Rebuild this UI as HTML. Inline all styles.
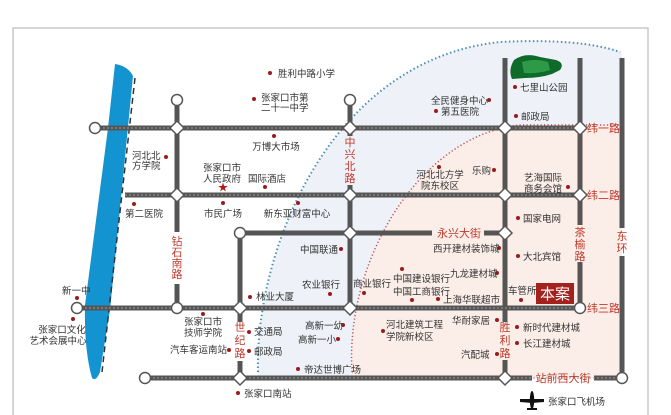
<!DOCTYPE html>
<html><head><meta charset="utf-8"><style>
html,body{margin:0;padding:0;background:#fff;}
svg{display:block;font-family:"Liberation Sans","Noto Sans CJK SC",sans-serif;}
.t{font-size:9.5px;fill:#333;}
.r{font-size:11px;fill:#c0392b;}
.d{fill:#9b1b1b;}
</style></head><body>
<svg width="671" height="415" viewBox="0 0 671 415" xmlns="http://www.w3.org/2000/svg">
<rect x="13" y="28" width="635" height="400" fill="#fff" stroke="#c8c8c8" stroke-width="1.5"/>
<path d="M258,378 C255,250 330,60 500,42 Q580,38 622,52 L622,378 Z" fill="#eef1f7"/>
<path d="M352,378 C345,260 420,135 520,125 L622,125 L622,378 Z" fill="#fbede7"/>
<path d="M258,372 C255,250 330,60 500,42 Q580,38 620,52" fill="none" stroke="#4a90b8" stroke-width="2" stroke-dasharray="1.5,2.5"/>
<path d="M352,372 C345,260 420,135 520,125 L620,125" fill="none" stroke="#c0504d" stroke-width="1.5" stroke-dasharray="1.2,2.3"/>
<path d="M115,64 Q128,66 133,76 L110,310 L100,372 Q96,382 92,378 Q84,350 85,305 L108,128 Z" fill="#1393d0"/>
<line x1="135" y1="78" x2="102" y2="372" stroke="#333" stroke-width="1.5" stroke-dasharray="6,4"/>
<path d="M514,60 Q525,52 540,57 L556,60 Q565,63 560,70 L552,74 Q540,78 525,78 L512,79 Q508,70 514,60 Z" fill="#0f6b2a"/>
<path d="M522,62 Q535,58 548,62 L550,70 Q538,74 524,73 Z" fill="#2e9a48"/>
<g stroke="#555" stroke-width="5" fill="none">
<line x1="95" y1="128" x2="580" y2="128"/>
<line x1="125" y1="195" x2="580" y2="195"/>
<line x1="240" y1="233" x2="432" y2="233"/>
<line x1="484" y1="233" x2="505" y2="233"/>
<line x1="77" y1="308" x2="580" y2="308"/>
<line x1="145" y1="378" x2="532" y2="378"/>
<line x1="594" y1="378" x2="622" y2="378"/>
<line x1="177" y1="100" x2="177" y2="232"/>
<line x1="177" y1="284" x2="177" y2="308"/>
<line x1="240" y1="233" x2="240" y2="322"/>
<line x1="240" y1="361" x2="240" y2="378"/>
<line x1="350" y1="100" x2="350" y2="136"/>
<line x1="350" y1="185" x2="350" y2="308"/>
<line x1="505" y1="58" x2="505" y2="322"/>
<line x1="505" y1="360" x2="505" y2="378"/>
<line x1="580" y1="58" x2="580" y2="225"/>
<line x1="580" y1="262" x2="580" y2="308"/>
<line x1="622" y1="58" x2="622" y2="228"/>
<line x1="622" y1="256" x2="622" y2="378"/>
</g>
<g stroke="#9a9a9a" stroke-width="1" stroke-dasharray="2,2" fill="none">
<line x1="95" y1="128" x2="580" y2="128"/><line x1="125" y1="195" x2="580" y2="195"/>
<line x1="77" y1="308" x2="580" y2="308"/><line x1="145" y1="378" x2="622" y2="378"/>
</g>
<g fill="#fff" stroke="#555" stroke-width="1.5">
<circle cx="95" cy="128" r="5.5"/><circle cx="177" cy="100" r="5.5"/><circle cx="350" cy="100" r="5.5"/>
<circle cx="240" cy="233" r="5.5"/><circle cx="77" cy="308" r="5.5"/><circle cx="177" cy="308" r="5.5"/>
<circle cx="145" cy="378" r="5.5"/><circle cx="622" cy="378" r="5.5"/><circle cx="580" cy="308" r="5.5"/>
<path d="M177,121 l7,7 l-7,7 l-7,-7z"/><path d="M350,121 l7,7 l-7,7 l-7,-7z"/><path d="M505,121 l7,7 l-7,7 l-7,-7z"/><path d="M580,121 l7,7 l-7,7 l-7,-7z"/>
<path d="M177,188 l7,7 l-7,7 l-7,-7z"/><path d="M350,188 l7,7 l-7,7 l-7,-7z"/><path d="M505,188 l7,7 l-7,7 l-7,-7z"/><path d="M580,188 l7,7 l-7,7 l-7,-7z"/>
<path d="M350,226 l7,7 l-7,7 l-7,-7z"/><path d="M505,226 l7,7 l-7,7 l-7,-7z"/>
<path d="M240,301 l7,7 l-7,7 l-7,-7z"/><path d="M350,301 l7,7 l-7,7 l-7,-7z"/>
<path d="M240,371 l7,7 l-7,7 l-7,-7z"/><path d="M505,371 l7,7 l-7,7 l-7,-7z"/>
</g>
<g class="r" text-anchor="middle">
<text x="350" y="146">中</text><text x="350" y="158">兴</text><text x="350" y="170">北</text><text x="350" y="182">路</text>
<text x="177" y="245">钻</text><text x="177" y="256">石</text><text x="177" y="267">南</text><text x="177" y="278">路</text>
<text x="240" y="331">世</text><text x="240" y="344">纪</text><text x="240" y="357">路</text>
<text x="505" y="331">胜</text><text x="505" y="344">利</text><text x="505" y="357">路</text>
<text x="580" y="236">茶</text><text x="580" y="248">榆</text><text x="580" y="260">路</text>
<text x="622" y="240">东</text><text x="622" y="252">环</text>
<text x="459" y="237">永兴大街</text>
<text x="563" y="382">站前西大街</text>
</g>
<g class="r"><text x="587" y="132">纬一路</text><text x="587" y="199">纬二路</text><text x="587" y="312">纬三路</text></g>
<rect x="536" y="283" width="38" height="21" fill="#a3221d"/>
<text x="555" y="299" text-anchor="middle" style="font-size:15px;fill:#fff">本案</text>
<g class="d">
<circle cx="270" cy="73" r="2"/><circle cx="254" cy="99" r="2"/><circle cx="274" cy="136" r="2"/><circle cx="166" cy="157" r="2"/>
<circle cx="265" cy="187" r="2"/><circle cx="134" cy="204" r="2"/><circle cx="223" cy="203" r="2"/><circle cx="298" cy="203" r="2"/>
<circle cx="515" cy="87" r="2"/><circle cx="489" cy="100" r="2"/><circle cx="436" cy="111" r="2"/><circle cx="516" cy="116" r="2"/>
<circle cx="439" cy="167" r="2"/><circle cx="494" cy="170" r="2"/><circle cx="568" cy="187" r="2"/><circle cx="518" cy="218" r="2"/>
<circle cx="499" cy="248" r="2"/><circle cx="518" cy="256" r="2"/><circle cx="402" cy="269" r="2"/><circle cx="412" cy="300" r="2"/>
<circle cx="438" cy="299" r="2"/><circle cx="497" cy="273" r="2"/><circle cx="364" cy="293" r="2"/><circle cx="521" cy="300" r="2"/>
<circle cx="497" cy="320" r="2"/><circle cx="383" cy="331" r="2"/><circle cx="517" cy="327" r="2"/><circle cx="517" cy="343" r="2"/>
<circle cx="497" cy="354" r="2"/><circle cx="341" cy="249" r="2"/><circle cx="330" cy="294" r="2"/><circle cx="77" cy="298" r="2"/>
<circle cx="73" cy="319" r="2"/><circle cx="250" cy="297" r="2"/><circle cx="203" cy="314" r="2"/><circle cx="249" cy="332" r="2"/>
<circle cx="249" cy="351" r="2"/><circle cx="229" cy="350" r="2"/><circle cx="343" cy="325" r="2"/><circle cx="338" cy="339" r="2"/>
<circle cx="298" cy="369" r="2"/><circle cx="238" cy="393" r="2"/>
</g>
<text x="223" y="191" text-anchor="middle" style="font-size:10px;fill:#b01c1c">★</text>
<g class="t">
<text x="278" y="77">胜利中路小学</text>
<text x="261" y="101">张家口市第</text><text x="261" y="111">二十一中学</text>
<text x="276" y="150" text-anchor="middle">万博大市场</text>
<text x="132" y="159">河北北</text><text x="132" y="169">方学院</text>
<text x="222" y="171" text-anchor="middle">张家口市</text><text x="222" y="182" text-anchor="middle">人民政府</text>
<text x="267" y="182" text-anchor="middle">国际酒店</text>
<text x="125" y="217">第二医院</text>
<text x="223" y="217" text-anchor="middle">市民广场</text>
<text x="297" y="217" text-anchor="middle">新东亚财富中心</text>
<text x="520" y="91">七里山公园</text>
<text x="431" y="104">全民健身中心</text>
<text x="441" y="115">第五医院</text>
<text x="521" y="120">邮政局</text>
<text x="440" y="178" text-anchor="middle">河北北方学</text><text x="440" y="189" text-anchor="middle">院东校区</text>
<text x="472" y="174">乐购</text>
<text x="543" y="181" text-anchor="middle">艺海国际</text><text x="543" y="192" text-anchor="middle">商务会馆</text>
<text x="523" y="222">国家电网</text>
<text x="433" y="252">西开建材装饰城</text>
<text x="523" y="260">大北宾馆</text>
<text x="393" y="282">中国建设银行</text><text x="393" y="295">中国工商银行</text>
<text x="443" y="303">上海华联超市</text>
<text x="450" y="277">九龙建材城</text>
<text x="353" y="287">商业银行</text>
<text x="508" y="294">车管所</text>
<text x="452" y="324">华耐家居</text>
<text x="386" y="328">河北建筑工程</text><text x="386" y="340">学院新校区</text>
<text x="523" y="331">新时代建材城</text>
<text x="523" y="347">长江建材城</text>
<text x="461" y="358">汽配城</text>
<text x="300" y="253">中国联通</text>
<text x="302" y="288">农业银行</text>
<text x="62" y="294">新一中</text>
<text x="62" y="333" text-anchor="middle">张家口文化</text><text x="58" y="344" text-anchor="middle">艺术会展中心</text>
<text x="256" y="300">林业大厦</text>
<text x="203" y="325" text-anchor="middle">张家口市</text><text x="203" y="336" text-anchor="middle">技师学院</text>
<text x="254" y="335">交通局</text><text x="254" y="355">邮政局</text>
<text x="170" y="353">汽车客运南站</text>
<text x="305" y="329">高新一幼</text><text x="298" y="343">高新一小</text>
<text x="304" y="373">帝达世博广场</text>
<text x="244" y="397">张家口南站</text>
<text x="548" y="405">张家口飞机场</text>
</g>
<g fill="#111">
<ellipse cx="532" cy="400" rx="2.2" ry="9"/>
<path d="M520,399 L544,399 L544,402 L532,403 L520,402 Z"/>
<path d="M527,408 L537,408 L537,410 L527,410 Z"/>
</g>
</svg>
</body></html>
